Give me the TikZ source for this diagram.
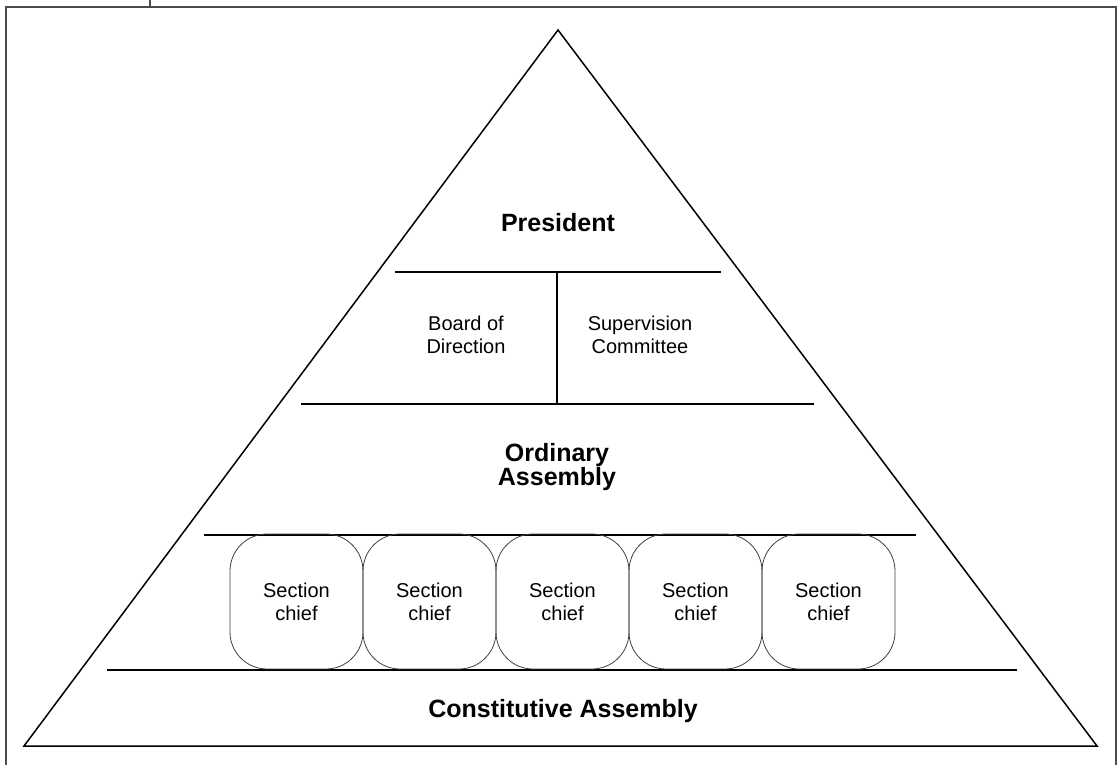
\documentclass[tikz,border=0pt]{standalone}
\usepackage{fontspec}
\setmainfont{Liberation Sans}
\begin{document}
\begin{tikzpicture}[x=1pt,y=-1pt,
  framerule/.style={draw=black!70,line width=2pt},
  tierline/.style={draw=black,line width=1.5pt},
  divider/.style={draw=black,line width=1.1pt},
  headlabel/.style={inner sep=0pt,align=center,font=\fontsize{25}{24}\selectfont\bfseries},
  sublabel/.style={inner sep=0pt,align=center,font=\fontsize{20}{23}\selectfont},
  chiefbox/.style={draw=black!75,line width=0.8pt,rounded corners=37pt,
    minimum width=133pt,minimum height=135pt,inner sep=0pt,align=center,
    font=\fontsize{20}{23}\selectfont}]
\useasboundingbox (0,0) rectangle (1120,765);

% page frame
\coordinate (fTL) at (6,7);
\coordinate (fTR) at (1116,7);
\coordinate (fBL) at (6,765);
\coordinate (fBR) at (1116,765);
\draw[framerule] (fBL) -- (fTL) -- (fTR) -- (fBR);
\coordinate (tabTop) at (150,0);
\coordinate (tabBot) at (150,7);
\draw[framerule] (tabTop) -- (tabBot);

% the pyramid
\coordinate (apex) at (558,30);
\coordinate (baseL) at (24,746);
\coordinate (baseR) at (1097,746);
\draw[tierline,line join=miter] (apex) -- (baseR) -- (baseL) -- cycle;

% tier separators
\coordinate (t1L) at (395,272); \coordinate (t1R) at (721,272);
\coordinate (t2L) at (301,404); \coordinate (t2R) at (814,404);
\coordinate (t3L) at (204,535); \coordinate (t3R) at (916,535);
\coordinate (t4L) at (107,670); \coordinate (t4R) at (1017,670);
\draw[tierline] (t1L) -- (t1R);
\draw[tierline] (t2L) -- (t2R);
\draw[tierline] (t3L) -- (t3R);
\draw[tierline] (t4L) -- (t4R);
\coordinate (divTop) at (557,272);
\coordinate (divBot) at (557,404);
\draw[divider] (divTop) -- (divBot);

% labels
\node[headlabel,anchor=base] (president) at (558,232) {President};
\node[sublabel] (board) at (466,334.5) {Board of\\Direction};
\node[sublabel] (supervision) at (640,334.5) {Supervision\\Committee};
\node[headlabel] (ordinary) at (557,467.5) {Ordinary\\Assembly};
\node[headlabel,anchor=base] (constitutive) at (563,717) {Constitutive Assembly};

% section chiefs
\foreach \i/\cx in {1/296.5,2/429.5,3/562.5,4/695.5,5/828.5}{
  \node[chiefbox] (chief\i) at (\cx,601.5) {Section\\chief};
}
\end{tikzpicture}
\end{document}
